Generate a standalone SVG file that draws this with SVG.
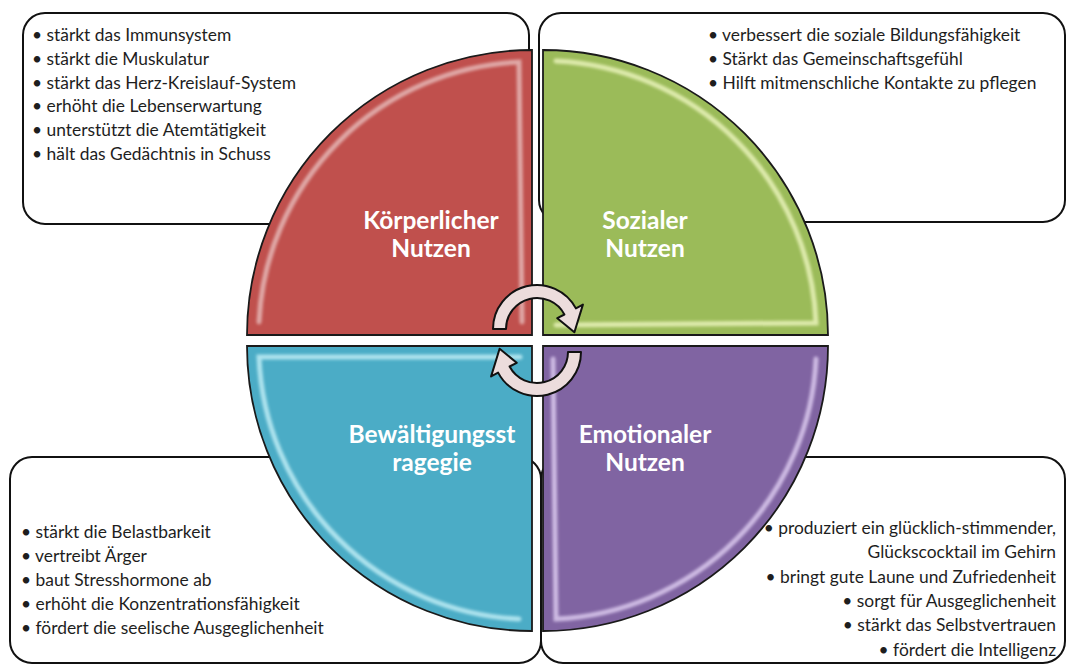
<svg xmlns="http://www.w3.org/2000/svg" width="1071" height="666" viewBox="0 0 1071 666">
<defs>
<filter id="soft" x="-5%" y="-5%" width="110%" height="110%"><feGaussianBlur stdDeviation="1.6"/></filter>
</defs>
<style>
.box{fill:#fff;stroke:#111;stroke-width:2}
.t{font-family:Lato,"Open Sans","Liberation Sans",sans-serif;font-size:17.4px;fill:#1e1e1e}
.lbl{font-family:Lato,"Open Sans","Liberation Sans",sans-serif;font-size:24.5px;font-weight:bold;fill:#fff;text-anchor:middle}
.q{stroke:#1a1a1a;stroke-width:1.8}
.hl{fill:none;stroke:#fff;stroke-width:5;stroke-linecap:round;opacity:.5;filter:url(#soft)}
.arr{fill:#ECDCDC;stroke:#111;stroke-width:2;stroke-linejoin:round}
</style>
<rect width="1071" height="666" fill="#fff"/>
<g id="box-koerper">
<rect class="box" x="23" y="13" width="506" height="211" rx="22"/>
<text class="t" x="32" y="41">• stärkt das Immunsystem</text>
<text class="t" x="32" y="65">• stärkt die Muskulatur</text>
<text class="t" x="32" y="89">• stärkt das Herz-Kreislauf-System</text>
<text class="t" x="32" y="112">• erhöht die Lebenserwartung</text>
<text class="t" x="32" y="136">• unterstützt die Atemtätigkeit</text>
<text class="t" x="32" y="160">• hält das Gedächtnis in Schuss</text>
</g>
<g id="box-sozial">
<rect class="box" x="539" y="13" width="526" height="209" rx="22"/>
<text class="t" x="708" y="41">• verbessert die soziale Bildungsfähigkeit</text>
<text class="t" x="708" y="65">• Stärkt das Gemeinschaftsgefühl</text>
<text class="t" x="708" y="89">• Hilft mitmenschliche Kontakte zu pflegen</text>
</g>
<g id="box-bewaeltigung">
<rect class="box" x="10" y="457" width="531" height="206" rx="22"/>
<text class="t" x="21" y="538">• stärkt die Belastbarkeit</text>
<text class="t" x="21" y="562">• vertreibt Ärger</text>
<text class="t" x="21" y="586">• baut Stresshormone ab</text>
<text class="t" x="21" y="610">• erhöht die Konzentrationsfähigkeit</text>
<text class="t" x="21" y="634">• fördert die seelische Ausgeglichenheit</text>
</g>
<g id="box-emotional">
<rect class="box" x="541" y="457" width="524" height="206" rx="22"/>
<g text-anchor="end">
<text class="t" x="1056" y="534">• produziert ein glücklich-stimmender,</text>
<text class="t" x="1056" y="558">Glückscocktail im Gehirn</text>
<text class="t" x="1056" y="583">• bringt gute Laune und Zufriedenheit</text>
<text class="t" x="1056" y="607">• sorgt für Ausgeglichenheit</text>
<text class="t" x="1056" y="631">• stärkt das Selbstvertrauen</text>
<text class="t" x="1056" y="656">• fördert die Intelligenz</text>
</g>
</g>
<g id="q-koerper">
<path class="q" fill="#C0504D" d="M532 335 L247 335 A285 285 0 0 1 532 50 Z"/>
<path class="hl" d="M259 322 A273 273 0 0 1 519 62 L522 322"/>
<text class="lbl" x="431" y="229">Körperlicher</text>
<text class="lbl" x="431" y="257">Nutzen</text>
</g>
<g id="q-sozial">
<path class="q" fill="#9BBB59" d="M543 335 L543 50 A285 285 0 0 1 828 335 Z"/>
<path class="hl" d="M556 61 A273 273 0 0 1 816 323 L556 325" style="stroke:#fbffd0;opacity:.7"/>
<text class="lbl" x="645" y="229">Sozialer</text>
<text class="lbl" x="645" y="257">Nutzen</text>
</g>
<g id="q-bewaeltigung">
<path class="q" fill="#4BACC6" d="M532 346 L532 631 A285 285 0 0 1 247 346 Z"/>
<path class="hl" d="M520 357 L259 357 A273 273 0 0 0 519 619" style="stroke:#d8fbff;opacity:.7"/>
<text class="lbl" x="432" y="443">Bewältigungsst</text>
<text class="lbl" x="432" y="471">ragegie</text>
</g>
<g id="q-emotional">
<path class="q" fill="#8064A2" d="M543 346 L828 346 A285 285 0 0 1 543 631 Z"/>
<path class="hl" d="M816 359 A273 273 0 0 1 556 619 L553 359" style="stroke:#efe0ff;opacity:.7"/>
<text class="lbl" x="645" y="443">Emotionaler</text>
<text class="lbl" x="645" y="471">Nutzen</text>
</g>
<g id="connectors">
<path class="arr" d="M493 329 A44 44 0 0 1 575.9 308.4 L582.9 304.6 L574.4 332.3 L557.3 318.2 L564.4 314.5 A31 31 0 0 0 506 329 Z"/>
<path class="arr" transform="rotate(180 537 340.5)" d="M493 329 A44 44 0 0 1 575.9 308.4 L582.9 304.6 L574.4 332.3 L557.3 318.2 L564.4 314.5 A31 31 0 0 0 506 329 Z"/>
</g>
</svg>
